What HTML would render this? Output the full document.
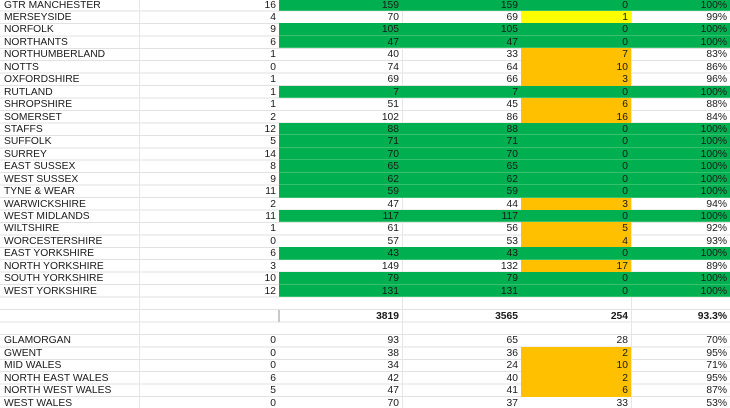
<!DOCTYPE html>
<html><head><style>
html,body{margin:0;padding:0;width:730px;height:408px;overflow:hidden;background:#fff;}
body{position:relative;font-family:"Liberation Sans",Arial,sans-serif;font-size:10.3px;color:#1a1a1a;}
.grid{position:absolute;left:0;top:-1.4px;width:730px;height:420px;
background:repeating-linear-gradient(to bottom,transparent 0,transparent 11.44px,#e2e2e2 11.44px,#e2e2e2 12.44px);}
.v{position:absolute;top:0;height:408px;width:1px;background:#e6e6e6;}
table{position:absolute;left:0;top:-1.4px;border-collapse:collapse;table-layout:fixed;width:730px;}
td{padding:1px 3px 0 0;height:11.44px;line-height:11.44px;text-align:right;white-space:nowrap;overflow:hidden;}
td:first-child{text-align:left;padding:1px 0 0 4px;}
tr.g td:nth-child(n+3){background:#00b050;box-shadow:inset 0 -1px 0 #35c070;}
td.o{background:#ffc000;}
td.y{background:#ffff00;}
tr.t td{font-weight:bold;}
tr.t td:nth-child(3){border-left:2px solid #c8c8c8;}
</style></head><body>
<div class="grid"></div>
<div class="v" style="left:139px"></div>
<div class="v" style="left:402px"></div>
<div class="v" style="left:631px"></div>
<table>
<colgroup><col style="width:139px"><col style="width:140px"><col style="width:123px"><col style="width:119px"><col style="width:110px"><col style="width:99px"></colgroup>
<tr class="g"><td>GTR MANCHESTER</td><td>16</td><td>159</td><td>159</td><td>0</td><td>100%</td></tr>
<tr><td>MERSEYSIDE</td><td>4</td><td>70</td><td>69</td><td class="y">1</td><td>99%</td></tr>
<tr class="g"><td>NORFOLK</td><td>9</td><td>105</td><td>105</td><td>0</td><td>100%</td></tr>
<tr class="g"><td>NORTHANTS</td><td>6</td><td>47</td><td>47</td><td>0</td><td>100%</td></tr>
<tr><td>NORTHUMBERLAND</td><td>1</td><td>40</td><td>33</td><td class="o">7</td><td>83%</td></tr>
<tr><td>NOTTS</td><td>0</td><td>74</td><td>64</td><td class="o">10</td><td>86%</td></tr>
<tr><td>OXFORDSHIRE</td><td>1</td><td>69</td><td>66</td><td class="o">3</td><td>96%</td></tr>
<tr class="g"><td>RUTLAND</td><td>1</td><td>7</td><td>7</td><td>0</td><td>100%</td></tr>
<tr><td>SHROPSHIRE</td><td>1</td><td>51</td><td>45</td><td class="o">6</td><td>88%</td></tr>
<tr><td>SOMERSET</td><td>2</td><td>102</td><td>86</td><td class="o">16</td><td>84%</td></tr>
<tr class="g"><td>STAFFS</td><td>12</td><td>88</td><td>88</td><td>0</td><td>100%</td></tr>
<tr class="g"><td>SUFFOLK</td><td>5</td><td>71</td><td>71</td><td>0</td><td>100%</td></tr>
<tr class="g"><td>SURREY</td><td>14</td><td>70</td><td>70</td><td>0</td><td>100%</td></tr>
<tr class="g"><td>EAST SUSSEX</td><td>8</td><td>65</td><td>65</td><td>0</td><td>100%</td></tr>
<tr class="g"><td>WEST SUSSEX</td><td>9</td><td>62</td><td>62</td><td>0</td><td>100%</td></tr>
<tr class="g"><td>TYNE &amp; WEAR</td><td>11</td><td>59</td><td>59</td><td>0</td><td>100%</td></tr>
<tr><td>WARWICKSHIRE</td><td>2</td><td>47</td><td>44</td><td class="o">3</td><td>94%</td></tr>
<tr class="g"><td>WEST MIDLANDS</td><td>11</td><td>117</td><td>117</td><td>0</td><td>100%</td></tr>
<tr><td>WILTSHIRE</td><td>1</td><td>61</td><td>56</td><td class="o">5</td><td>92%</td></tr>
<tr><td>WORCESTERSHIRE</td><td>0</td><td>57</td><td>53</td><td class="o">4</td><td>93%</td></tr>
<tr class="g"><td>EAST YORKSHIRE</td><td>6</td><td>43</td><td>43</td><td>0</td><td>100%</td></tr>
<tr><td>NORTH YORKSHIRE</td><td>3</td><td>149</td><td>132</td><td class="o">17</td><td>89%</td></tr>
<tr class="g"><td>SOUTH YORKSHIRE</td><td>10</td><td>79</td><td>79</td><td>0</td><td>100%</td></tr>
<tr class="g"><td>WEST YORKSHIRE</td><td>12</td><td>131</td><td>131</td><td>0</td><td>100%</td></tr>
<tr><td></td><td></td><td></td><td></td><td></td><td></td></tr>
<tr class="t"><td></td><td></td><td>3819</td><td>3565</td><td>254</td><td>93.3%</td></tr>
<tr><td></td><td></td><td></td><td></td><td></td><td></td></tr>
<tr><td>GLAMORGAN</td><td>0</td><td>93</td><td>65</td><td>28</td><td>70%</td></tr>
<tr><td>GWENT</td><td>0</td><td>38</td><td>36</td><td class="o">2</td><td>95%</td></tr>
<tr><td>MID WALES</td><td>0</td><td>34</td><td>24</td><td class="o">10</td><td>71%</td></tr>
<tr><td>NORTH EAST WALES</td><td>6</td><td>42</td><td>40</td><td class="o">2</td><td>95%</td></tr>
<tr><td>NORTH WEST WALES</td><td>5</td><td>47</td><td>41</td><td class="o">6</td><td>87%</td></tr>
<tr><td>WEST WALES</td><td>0</td><td>70</td><td>37</td><td>33</td><td>53%</td></tr>
</table>
</body></html>
